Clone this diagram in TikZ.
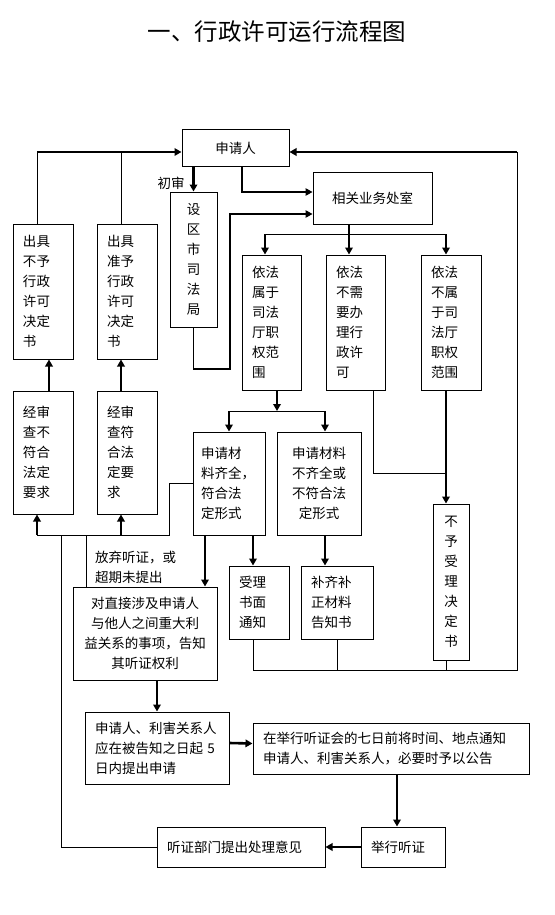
\documentclass[tikz,border=0pt]{standalone}
\usepackage{fontspec}
\setmainfont{Noto Sans CJK SC}
\usepackage{tikz}
\usetikzlibrary{
    arrows.meta,
    calc
}
\newcommand{\boxfont}{\fontsize{13.5pt}{20pt}\selectfont}
\tikzset{
    flow box/.style={
        draw,
        line width=1pt,
        align=left,
        font=\boxfont,
        inner xsep=10pt,
        inner ysep=4pt
    },
    flow label/.style={font=\boxfont, inner sep=1pt},
    flow line/.style={line width=1pt},
    flow arrow/.style={-{Triangle[length=7pt,width=7.5pt]}, line width=2.6pt},
    flow thin arrow/.style={-{Triangle[length=7pt,width=7.5pt]}, line width=1.2pt}
}

\begin{document}
\begin{tikzpicture}[x=1pt, y=-1pt]
    \path[fill=white, use as bounding box] (0,0) rectangle (554,915);

    \node[font=\fontsize{23.5pt}{26pt}\selectfont] (title) at (277,32) {一、行政许可运行流程图};

    \node[flow box, align=center, text width=87pt, minimum height=36pt] (applicant) at (235.5,148) {申请人};
    \node[flow box, align=center, text width=27pt, minimum height=135pt] (cityboj) at (193.5,259.5) {设\\区\\市\\司\\法\\局};
    \node[flow box, text width=40pt, minimum height=135pt] (refuse) at (43,291.5) {出具\\不予\\行政\\许可\\决定\\书};
    \node[flow box, text width=40pt, minimum height=135pt] (grant) at (127,291.5) {出具\\准予\\行政\\许可\\决定\\书};
    \node[flow box, align=center, text width=99pt, minimum height=52pt] (office) at (372.5,198) {相关业务处室};

    \node[flow box, text width=39pt, minimum height=135pt] (within) at (271.5,322.5) {依法\\属于\\司法\\厅职\\权范\\围};
    \node[flow box, text width=39pt, minimum height=135pt] (nolicense) at (355.5,322.5) {依法\\不需\\要办\\理行\\政许\\可};
    \node[flow box, text width=40pt, minimum height=135pt] (outside) at (451,322.5) {依法\\不属\\于司\\法厅\\职权\\范围};

    \node[flow box, text width=40pt, minimum height=123pt] (notfit) at (43,452.5) {经审\\查不\\符合\\法定\\要求};
    \node[flow box, text width=40pt, minimum height=123pt] (fit) at (127,452.5) {经审\\查符\\合法\\定要\\求};

    \node[flow box, inner xsep=8pt, text width=56pt, minimum height=103pt] (complete) at (229,483.5) {申请材\\料齐全，\\符合法\\定形式};
    \node[flow box, align=center, text width=64pt, minimum height=103pt] (incomplete) at (319,483.5) {申请材料\\不齐全或\\不符合法\\定形式};

    \node[flow box, text width=40pt, minimum height=73pt] (accept) at (259,602.5) {受理\\书面\\通知};
    \node[flow box, text width=52pt, minimum height=73pt] (supplement) at (337,602.5) {补齐补\\正材料\\告知书};
    \node[flow box, align=center, inner xsep=5pt, text width=26pt, minimum height=156pt] (reject) at (451,582) {不\\予\\受\\理\\决\\定\\书};

    \node[flow box, align=center, inner xsep=6pt, text width=132pt, minimum height=93pt] (inform) at (145,633.5) {对直接涉及申请人\\与他人之间重大利\\益关系的事项，告知\\其听证权利};
    \node[flow box, text width=124pt, minimum height=72pt] (apply) at (157,748) {申请人、利害关系人\\应在被告知之日起 5\\日内提出申请};
    \node[flow box, text width=256pt, minimum height=51pt] (notice) at (391,748.5) {在举行听证会的七日前将时间、地点通知\\申请人、利害关系人，必要时予以公告};
    \node[flow box, text width=64pt, minimum height=40pt] (hearing) at (403,847) {举行听证};
    \node[flow box, text width=148pt, minimum height=40pt] (opinion) at (241,847) {听证部门提出处理意见};

    \node[flow label] (firstreview) at (171,183) {初审};
    \node[flow label, anchor=west, align=left] (waivelabel) at (94,567) {放弃听证，或\\超期未提出};

    % bend points
    \coordinate (toprow) at (37,152);
    \coordinate (rightrow) at (517,152);
    \coordinate (bottomrow) at (517,670);
    \coordinate (citybend) at (230,369);
    \coordinate (split1) at (349,234);
    \coordinate (splitL) at (265,234);
    \coordinate (splitR) at (446,234);
    \coordinate (nojoin) at (446,473);
    \coordinate (split2) at (277,411);
    \coordinate (split2L) at (229,411);
    \coordinate (split2R) at (325,411);
    \coordinate (fitbend) at (169,535);
    \coordinate (fitend) at (37,535);
    \coordinate (fitup) at (121,535);
    \coordinate (waive) at (86,535);
    \coordinate (backline) at (61,535);

    % back to the applicant
    \draw[flow line] ([xshift=-6pt]refuse.north) |- (toprow);
    \draw[flow line] ([xshift=-6pt]grant.north) |- (toprow);
    \draw[flow arrow] (toprow) -- ([yshift=-4pt]applicant.west);
    \draw[flow line] ([xshift=-6pt]accept.south) |- (bottomrow) -- (rightrow);
    \draw[flow line] (supplement.south) |- (bottomrow);
    \draw[flow line] ([xshift=-5pt]reject.south) |- (bottomrow);
    \draw[flow arrow] (rightrow) -- ([yshift=-4pt]applicant.east);

    % first review
    \draw[flow arrow] (applicant.south -| cityboj.north) -- (cityboj.north);
    \draw[flow thin arrow] ([xshift=6.5pt]applicant.south) |- ([yshift=6pt]office.west);
    \draw[flow thin arrow] (cityboj.south) |- (citybend) |- ([yshift=-16pt]office.west);

    % office split
    \draw[flow line, line width=2.6pt] (split1 |- office.south) -- (split1);
    \draw[flow line] (splitL) -- (splitR);
    \draw[flow arrow] (splitL) -- (splitL |- within.north);
    \draw[flow arrow] (split1) -- (split1 |- nolicense.north);
    \draw[flow arrow] (splitR) -- (splitR |- outside.north);
    \draw[flow arrow] ([xshift=-5pt]outside.south) -- ([xshift=-5pt]reject.north);
    \draw[flow line] ([xshift=17.5pt]nolicense.south) |- (nojoin);

    % materials
    \draw[flow arrow] (within.south -| split2) -- (split2);
    \draw[flow line] (split2L) -- (split2R);
    \draw[flow arrow] (split2L) -- (split2L |- complete.north);
    \draw[flow arrow] (split2R) -- (split2R |- incomplete.north);
    \draw[flow arrow] ([xshift=24pt]complete.south) -- ([xshift=-6pt]accept.north);
    \draw[flow arrow] ([xshift=6pt]incomplete.south) -- ([xshift=-12pt]supplement.north);
    \draw[flow arrow] ([xshift=-24pt]complete.south) -- ([xshift=60pt]inform.north);

    % review result
    \draw[flow line] (complete.west) -| (fitbend) -- (fitend);
    \draw[flow arrow] (fitend) -- (fitend |- notfit.south);
    \draw[flow arrow] (fitup) -- (fitup |- fit.south);
    \draw[flow arrow] ([xshift=6pt]notfit.north) -- ([xshift=6pt]refuse.south);
    \draw[flow arrow] ([xshift=-6pt]fit.north) -- ([xshift=-6pt]grant.south);
    \draw[flow line] (waive) -- (waive |- inform.north);

    % hearing
    \draw[flow arrow] ([xshift=12pt]inform.south) -- (apply.north);
    \draw[flow arrow] ([yshift=5pt]apply.east) -- ([yshift=5pt]notice.west);
    \draw[flow arrow] ([xshift=6pt]notice.south) -- ([xshift=-6pt]hearing.north);
    \draw[flow arrow] (hearing.west) -- (opinion.east);
    \draw[flow line] (opinion.west) -| (backline);
\end{tikzpicture}
\end{document}
